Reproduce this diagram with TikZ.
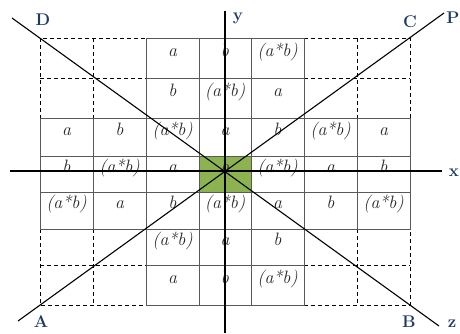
\documentclass[tikz,border=0pt]{standalone}
\usepackage{tikz}
\usetikzlibrary{positioning}
\definecolor{lblblue}{HTML}{1F3864}
\definecolor{cellgreen}{HTML}{8DB350}
\newcommand{\ab}{(a*b)}
\tikzset{
  cellline/.style={draw=black!65,line width=0.6pt},
  dashline/.style={draw=black,line width=0.8pt,dash pattern=on 4bp off 3bp},
  axisline/.style={black,line width=1.1pt},
  entry/.style={font=\fontsize{18}{20}\selectfont\itshape,text=black!85,inner sep=0pt,anchor=base,yshift=2bp},
  axlbl/.style={font=\fontsize{17}{20}\selectfont\bfseries,text=lblblue,inner sep=0pt},
}
\begin{document}
\begin{tikzpicture}[x=1bp,y=-1bp]
  \useasboundingbox (0,0) rectangle (460,333);
  % dashed corner blocks
  \draw[dashline] (40,119) -- (40,38) -- (146,38) (93,38) -- (93,119) (40,78) -- (146,78);
  \draw[dashline] (304,38) -- (410,38) -- (410,119) (357,38) -- (357,119) (304,78) -- (410,78);
  \draw[dashline] (40,229) -- (40,305) -- (146,305) (93,229) -- (93,305) (40,265) -- (146,265);
  \draw[dashline] (304,305) -- (410,305) -- (410,229) (357,229) -- (357,305) (304,265) -- (410,265);
  % cells
  \foreach \r/\ya/\yb in {1/38/78,2/78/118,3/118/156,4/156/192,5/192/229,6/229/265,7/265/305}
    \foreach \c/\xa/\xb in {1/40/93,2/93/146,3/146/199,4/199/251,5/251/304,6/304/357,7/357/410} {
      \coordinate (m-\r-\c) at ({(\xa+\xb)/2},{(\ya+\yb)/2});
      \ifnum\r>2 \ifnum\r<6 \draw[cellline] (\xa,\ya) rectangle (\xb,\yb); \fi\fi
      \ifnum\c>2 \ifnum\c<6 \draw[cellline] (\xa,\ya) rectangle (\xb,\yb); \fi\fi
    }
  \fill[cellgreen] (199,156) rectangle (251,192);
  \draw[cellline] (199,156) rectangle (251,192);
  % entries
  \foreach \r/\c/\t in {1/3/a,1/4/b,1/5/\ab,
      2/3/b,2/4/\ab,2/5/a,
      3/1/a,3/2/b,3/3/\ab,3/4/a,3/5/b,3/6/\ab,3/7/a,
      4/1/b,4/2/\ab,4/3/a,4/4/b,4/5/\ab,4/6/a,4/7/b,
      5/1/\ab,5/2/a,5/3/b,5/4/\ab,5/5/a,5/6/b,5/7/\ab,
      6/3/\ab,6/4/a,6/5/b,
      7/3/a,7/4/b,7/5/\ab}
    \node[entry] (t-\r-\c) at (m-\r-\c) {\t};
  % axes and diagonals
  \coordinate (xl) at (10,171);
  \coordinate (xr) at (442,171);
  \coordinate (yt) at (225,11);
  \coordinate (yb) at (225,333);
  \coordinate (da) at (12,18);
  \coordinate (db) at (439,326);
  \coordinate (aa) at (18,321);
  \coordinate (ac) at (444,13);
  \draw[axisline] (xl) -- (xr);
  \draw[axisline] (yt) -- (yb);
  \draw[axisline] (da) -- (db);
  \draw[axisline] (aa) -- (ac);
  % labels
  \node[axlbl] (D) at (43,20) {D};
  \node[axlbl] (C) at (410,22) {C};
  \node[axlbl] (A) at (41,322) {A};
  \node[axlbl] (B) at (409,322) {B};
  \node[axlbl] (ly) at (238,18) {y};
  \node[axlbl] (lp) at (453,18) {P};
  \node[axlbl] (lx) at (454,173) {x};
  \node[axlbl] (lz) at (452,324) {z};
\end{tikzpicture}
\end{document}
